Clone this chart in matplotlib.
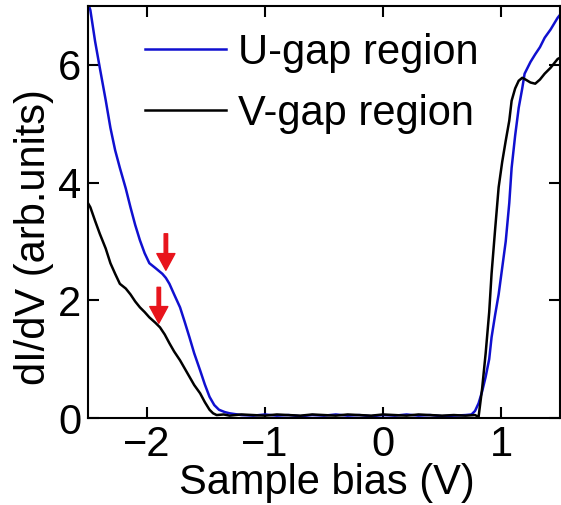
import matplotlib
matplotlib.use("Agg")
import matplotlib.pyplot as plt

plt.rcParams['font.family'] = ['Liberation Sans', 'DejaVu Sans']

# Values (bias in V, dI/dV in arb. units)
u_bias = [-2.50, -2.48, -2.44, -2.40, -2.35, -2.31, -2.27, -2.23, -2.18, -2.14, -2.10,
          -2.06, -2.02, -1.98, -1.93, -1.87, -1.84, -1.81, -1.77, -1.72, -1.68, -1.64,
          -1.60, -1.55, -1.51, -1.47, -1.43, -1.39, -1.34, -1.30, -1.2, -1.1, -1.0,
          -0.9, -0.8, -0.7, -0.6, -0.5, -0.4, -0.3, -0.2, -0.1, 0.0, 0.1, 0.2, 0.3,
          0.4, 0.5, 0.6, 0.7, 0.75, 0.78, 0.81, 0.84, 0.87, 0.90, 0.92, 0.95, 0.98,
          1.01, 1.04, 1.07, 1.09, 1.12, 1.15, 1.18, 1.20, 1.25, 1.29, 1.33, 1.37,
          1.42, 1.48, 1.50]
u_didv = [7.05, 6.93, 6.40, 5.95, 5.40, 4.93, 4.55, 4.25, 3.90, 3.58, 3.28,
          3.02, 2.80, 2.63, 2.55, 2.45, 2.38, 2.28, 2.10, 1.88, 1.63, 1.37,
          1.10, 0.81, 0.57, 0.36, 0.22, 0.14, 0.10, 0.08, 0.05, 0.04, 0.06,
          0.04, 0.05, 0.03, 0.05, 0.04, 0.06, 0.04, 0.05, 0.03, 0.05, 0.04, 0.06,
          0.04, 0.05, 0.03, 0.04, 0.05, 0.06, 0.12, 0.25, 0.45, 0.70, 1.00, 1.37,
          1.75, 2.10, 2.55, 3.00, 3.65, 4.25, 4.80, 5.27, 5.60, 5.85, 6.05, 6.18,
          6.30, 6.46, 6.60, 6.80, 6.85]

v_bias = [-2.50, -2.48, -2.44, -2.40, -2.35, -2.31, -2.27, -2.23, -2.18, -2.14, -2.10,
          -2.06, -2.02, -1.98, -1.93, -1.89, -1.85, -1.81, -1.77, -1.72, -1.68, -1.64,
          -1.60, -1.55, -1.51, -1.47, -1.44, -1.41, -1.35, -1.3, -1.2, -1.1, -1.0,
          -0.9, -0.8, -0.7, -0.6, -0.5, -0.4, -0.3, -0.2, -0.1, 0.0, 0.1, 0.2, 0.3,
          0.4, 0.5, 0.6, 0.7, 0.78, 0.81, 0.84, 0.87, 0.90, 0.92, 0.95, 0.98,
          1.01, 1.04, 1.07, 1.09, 1.12, 1.15, 1.18, 1.20, 1.25, 1.29, 1.33, 1.37,
          1.42, 1.48, 1.50]
v_didv = [3.65, 3.58, 3.35, 3.13, 2.88, 2.63, 2.45, 2.28, 2.20, 2.10, 1.98,
          1.88, 1.80, 1.71, 1.62, 1.54, 1.42, 1.27, 1.13, 0.98, 0.84, 0.70,
          0.56, 0.42, 0.27, 0.14, 0.08, 0.05, 0.06, 0.04, 0.06, 0.05, 0.04,
          0.06, 0.05, 0.04, 0.06, 0.05, 0.04, 0.06, 0.05, 0.04, 0.06, 0.05, 0.04,
          0.06, 0.05, 0.04, 0.05, 0.04, 0.05, 0.02, 0.50, 1.10, 1.80, 2.45, 3.20,
          3.92, 4.35, 4.71, 5.05, 5.39, 5.60, 5.73, 5.78, 5.76, 5.70, 5.68, 5.75,
          5.85, 5.95, 6.10, 6.12]

# red arrows: (x, tail y, tip y)
arrow_x = [-1.84, -1.90]
arrow_tail = [3.13, 2.22]
arrow_tip = [2.51, 1.61]

fig = plt.figure(figsize=(5.61, 5.05), dpi=100)
ax = fig.add_axes([88 / 561, (505 - 418) / 505, (560 - 88) / 561, (418 - 6) / 505])

ax.plot(u_bias, u_didv, color='#1010d0', lw=1.8, label='U-gap region')
ax.plot(v_bias, v_didv, color='black', lw=1.8, label='V-gap region')

for x, y0, y1 in zip(arrow_x, arrow_tail, arrow_tip):
    ax.annotate('', xy=(x, y1), xytext=(x, y0),
                arrowprops=dict(facecolor='#e8141c', edgecolor='#e8141c',
                                width=2.5, headwidth=13, headlength=12))

ax.set_xlim(-2.5, 1.5)
ax.set_ylim(0, 7)
ax.set_xticks([-2, -1, 0, 1])
ax.set_yticks([0, 2, 4, 6])
ax.tick_params(direction='in', top=True, right=True, length=8, width=1.5,
               labelsize=30, pad=5)
for s in ax.spines.values():
    s.set_linewidth(1.5)

ax.set_xlabel('Sample bias (V)', fontsize=30, va='baseline')
ax.xaxis.set_label_coords(0.507, -0.185)
ax.set_ylabel('dI/dV (arb.units)', fontsize=30)
ax.yaxis.set_label_coords(-0.072, 0.44)

ax.legend(loc='upper left', bbox_to_anchor=(0.067, 0.995), frameon=False,
          fontsize=30, handlelength=1.95, handletextpad=0.3, labelspacing=0.5,
          borderaxespad=0.2)

fig.savefig('out.png', dpi=100)
